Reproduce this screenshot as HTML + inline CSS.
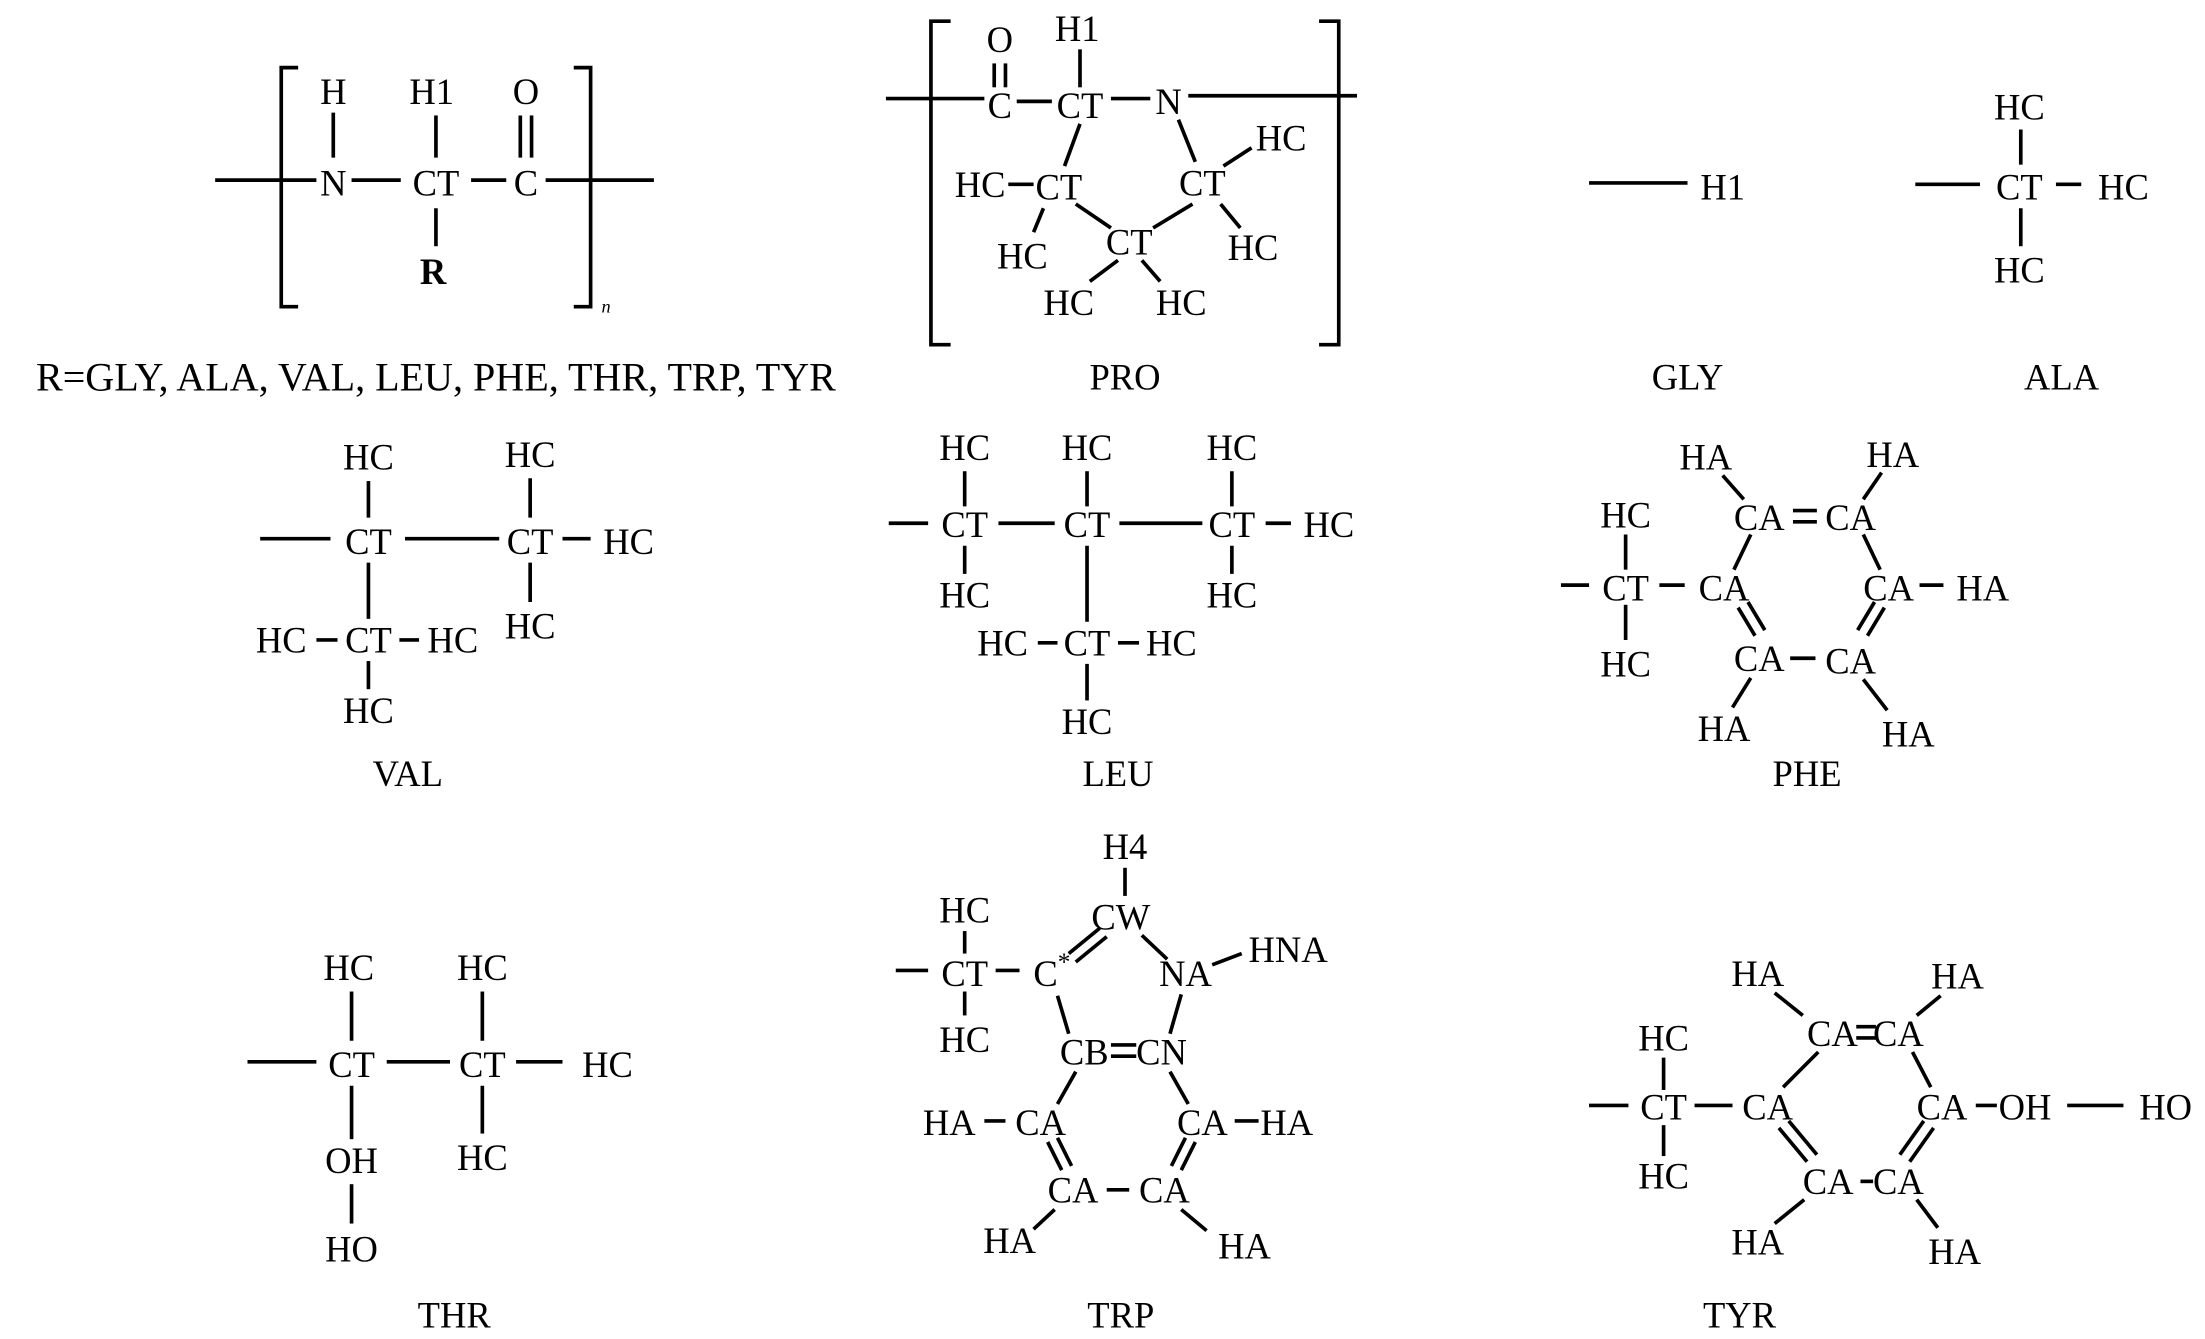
<!DOCTYPE html>
<html><head><meta charset="utf-8"><style>
html,body{margin:0;padding:0;background:#fff;}
svg{display:block}
text{font-family:"Liberation Serif",serif;font-size:26px;fill:#000;text-anchor:middle;dominant-baseline:central}
line,polyline{stroke:#000;stroke-width:2.6;fill:none}
</style></head><body>
<svg width="2205" height="1339" viewBox="0 0 1568 952" xmlns="http://www.w3.org/2000/svg">
<!-- Backbone -->
<polyline points="212,48 200,48 200,218 212,218"/>
<polyline points="408,48 420,48 420,218 408,218"/>
<line x1="153" y1="128" x2="225" y2="128"/><text x="237" y="130">N</text>
<line x1="250" y1="128" x2="285" y2="128"/><text x="310" y="130">CT</text>
<line x1="335" y1="128" x2="360" y2="128"/><text x="374" y="130">C</text>
<line x1="388" y1="128" x2="465" y2="128"/>
<text x="237" y="65">H</text><line x1="237" y1="80" x2="237" y2="112"/>
<text x="307" y="65">H1</text><line x1="310" y1="82" x2="310" y2="112"/>
<text x="374" y="65">O</text><line x1="370" y1="82" x2="370" y2="112"/><line x1="378" y1="82" x2="378" y2="112"/>
<text x="308" y="193" style="font-weight:bold">R</text><line x1="310" y1="148" x2="310" y2="175"/>
<text x="431" y="218" style="font-style:italic;font-size:13px">n</text>
<text x="310" y="268" style="font-size:28.5px">R=GLY, ALA, VAL, LEU, PHE, THR, TRP, TYR</text>
<!-- PRO -->
<polyline points="676,15 662,15 662,245 676,245"/>
<polyline points="938,15 952,15 952,245 938,245"/>
<line x1="630" y1="70" x2="700" y2="70"/><text x="711" y="75">C</text>
<text x="711" y="28">O</text><line x1="707" y1="45" x2="707" y2="62"/><line x1="715" y1="45" x2="715" y2="62"/>
<line x1="723" y1="72" x2="748" y2="72"/><text x="768" y="75">CT</text>
<text x="766" y="20">H1</text><line x1="768" y1="35" x2="768" y2="62"/>
<line x1="790" y1="70" x2="818" y2="70"/><text x="831" y="72">N</text>
<line x1="845" y1="68" x2="965" y2="68"/>
<text x="753" y="133">CT</text><text x="855" y="130">CT</text><text x="803" y="172">CT</text>
<line x1="768" y1="88" x2="757" y2="118"/><line x1="838" y1="85" x2="850" y2="115"/>
<line x1="765" y1="145" x2="790" y2="162"/><line x1="848" y1="145" x2="820" y2="162"/>
<text x="697" y="131">HC</text><line x1="717" y1="131" x2="735" y2="131"/>
<text x="911" y="98">HC</text><line x1="870" y1="118" x2="890" y2="105"/>
<text x="727" y="182">HC</text><line x1="742" y1="148" x2="735" y2="165"/>
<text x="891" y="176">HC</text><line x1="868" y1="145" x2="882" y2="162"/>
<text x="760" y="215">HC</text><line x1="795" y1="185" x2="775" y2="200"/>
<text x="840" y="215">HC</text><line x1="812" y1="185" x2="825" y2="200"/>
<text x="800" y="268">PRO</text>
<!-- GLY -->
<line x1="1130" y1="130" x2="1200" y2="130"/><text x="1225" y="133">H1</text>
<text x="1200" y="268">GLY</text>
<!-- ALA -->
<line x1="1362" y1="131" x2="1408" y2="131"/><text x="1436" y="133">CT</text>
<line x1="1462" y1="131" x2="1480" y2="131"/><text x="1510" y="133">HC</text>
<text x="1436" y="76">HC</text><line x1="1437" y1="92" x2="1437" y2="117"/>
<text x="1436" y="192">HC</text><line x1="1437" y1="148" x2="1437" y2="175"/>
<text x="1466" y="268">ALA</text>
<!-- VAL -->
<line x1="185" y1="383" x2="235" y2="383"/><text x="262" y="385">CT</text>
<line x1="288" y1="383" x2="355" y2="383"/><text x="377" y="385">CT</text>
<line x1="400" y1="383" x2="420" y2="383"/><text x="447" y="385">HC</text>
<text x="262" y="325">HC</text><line x1="262" y1="342" x2="262" y2="368"/>
<text x="377" y="323">HC</text><line x1="377" y1="340" x2="377" y2="368"/>
<text x="377" y="445">HC</text><line x1="377" y1="400" x2="377" y2="428"/>
<line x1="262" y1="400" x2="262" y2="440"/><text x="262" y="455">CT</text>
<text x="200" y="455">HC</text><line x1="225" y1="455" x2="240" y2="455"/>
<text x="322" y="455">HC</text><line x1="284" y1="455" x2="298" y2="455"/>
<text x="262" y="505">HC</text><line x1="262" y1="470" x2="262" y2="490"/>
<text x="290" y="550">VAL</text>
<!-- LEU -->
<line x1="632" y1="372" x2="660" y2="372"/><text x="686" y="373">CT</text>
<line x1="710" y1="372" x2="750" y2="372"/><text x="773" y="373">CT</text>
<line x1="796" y1="372" x2="855" y2="372"/><text x="876" y="373">CT</text>
<line x1="900" y1="372" x2="918" y2="372"/><text x="945" y="373">HC</text>
<text x="686" y="318">HC</text><line x1="686" y1="335" x2="686" y2="360"/>
<text x="686" y="423">HC</text><line x1="686" y1="388" x2="686" y2="408"/>
<text x="773" y="318">HC</text><line x1="773" y1="335" x2="773" y2="360"/>
<line x1="773" y1="388" x2="773" y2="442"/><text x="773" y="457">CT</text>
<text x="713" y="457">HC</text><line x1="738" y1="457" x2="752" y2="457"/>
<text x="833" y="457">HC</text><line x1="795" y1="457" x2="810" y2="457"/>
<text x="773" y="513">HC</text><line x1="773" y1="472" x2="773" y2="498"/>
<text x="876" y="318">HC</text><line x1="876" y1="335" x2="876" y2="360"/>
<text x="876" y="423">HC</text><line x1="876" y1="388" x2="876" y2="408"/>
<text x="795" y="550">LEU</text>
<!-- PHE -->
<line x1="1110" y1="416" x2="1130" y2="416"/><text x="1156" y="418">CT</text>
<line x1="1180" y1="416" x2="1198" y2="416"/><text x="1226" y="418">CA</text>
<text x="1156" y="366">HC</text><line x1="1156" y1="380" x2="1156" y2="405"/>
<text x="1156" y="472">HC</text><line x1="1156" y1="430" x2="1156" y2="455"/>
<text x="1251" y="368">CA</text><text x="1316" y="368">CA</text>
<line x1="1275" y1="363" x2="1292" y2="363"/><line x1="1275" y1="371" x2="1292" y2="371"/>
<text x="1343" y="418">CA</text><text x="1410" y="418">HA</text><line x1="1365" y1="416" x2="1382" y2="416"/>
<text x="1251" y="468">CA</text><text x="1316" y="470">CA</text><line x1="1273" y1="468" x2="1291" y2="468"/>
<line x1="1236" y1="432" x2="1248" y2="452"/><line x1="1243" y1="428" x2="1255" y2="448"/>
<line x1="1340" y1="432" x2="1328" y2="452"/><line x1="1333" y1="428" x2="1321" y2="448"/>
<line x1="1245" y1="380" x2="1233" y2="405"/><line x1="1325" y1="380" x2="1337" y2="405"/>
<text x="1213" y="325">HA</text><line x1="1225" y1="338" x2="1240" y2="355"/>
<text x="1346" y="323">HA</text><line x1="1338" y1="336" x2="1325" y2="355"/>
<text x="1226" y="518">HA</text><line x1="1245" y1="482" x2="1232" y2="503"/>
<text x="1357" y="522">HA</text><line x1="1325" y1="483" x2="1342" y2="505"/>
<text x="1285" y="550">PHE</text>
<!-- THR -->
<line x1="176" y1="755" x2="225" y2="755"/><text x="250" y="757">CT</text>
<line x1="275" y1="755" x2="320" y2="755"/><text x="343" y="757">CT</text>
<line x1="367" y1="755" x2="400" y2="755"/><text x="432" y="757">HC</text>
<text x="248" y="688">HC</text><line x1="250" y1="705" x2="250" y2="740"/>
<text x="343" y="688">HC</text><line x1="343" y1="705" x2="343" y2="740"/>
<text x="250" y="825">OH</text><line x1="250" y1="772" x2="250" y2="810"/>
<text x="343" y="823">HC</text><line x1="343" y1="772" x2="343" y2="806"/>
<text x="250" y="888">HO</text><line x1="250" y1="842" x2="250" y2="870"/>
<text x="323" y="935">THR</text>
<!-- TRP -->
<line x1="637" y1="690" x2="660" y2="690"/><text x="686" y="692">CT</text>
<line x1="708" y1="690" x2="725" y2="690"/><text x="748" y="692">C<tspan dy="-8" font-size="18">*</tspan></text>
<text x="686" y="647">HC</text><line x1="686" y1="662" x2="686" y2="678"/>
<text x="686" y="739">HC</text><line x1="686" y1="705" x2="686" y2="722"/>
<text x="797" y="652">CW</text><text x="800" y="602">H4</text><line x1="800" y1="617" x2="800" y2="637"/>
<line x1="760" y1="678" x2="782" y2="660"/><line x1="765" y1="684" x2="787" y2="666"/>
<line x1="812" y1="665" x2="830" y2="682"/>
<text x="843" y="692">NA</text><line x1="862" y1="686" x2="883" y2="678"/><text x="916" y="675">HNA</text>
<line x1="752" y1="708" x2="760" y2="735"/>
<text x="771" y="748">CB</text><text x="826" y="748">CN</text>
<line x1="790" y1="743" x2="808" y2="743"/><line x1="790" y1="751" x2="808" y2="751"/>
<line x1="840" y1="707" x2="832" y2="735"/>
<line x1="832" y1="762" x2="845" y2="785"/><line x1="765" y1="762" x2="752" y2="785"/>
<text x="675" y="798">HA</text><line x1="700" y1="797" x2="715" y2="797"/><text x="740" y="798">CA</text>
<text x="855" y="798">CA</text><line x1="878" y1="797" x2="895" y2="797"/><text x="915" y="798">HA</text>
<line x1="745" y1="812" x2="755" y2="832"/><line x1="752" y1="809" x2="762" y2="829"/>
<line x1="850" y1="812" x2="840" y2="832"/><line x1="843" y1="809" x2="833" y2="829"/>
<text x="763" y="846">CA</text><text x="828" y="846">CA</text><line x1="787" y1="846" x2="803" y2="846"/>
<text x="718" y="882">HA</text><line x1="750" y1="860" x2="735" y2="874"/>
<text x="885" y="886">HA</text><line x1="840" y1="860" x2="858" y2="875"/>
<text x="797" y="935">TRP</text>
<!-- TYR -->
<line x1="1130" y1="786" x2="1158" y2="786"/><text x="1183" y="787">CT</text>
<line x1="1205" y1="786" x2="1232" y2="786"/><text x="1257" y="787">CA</text>
<text x="1183" y="738">HC</text><line x1="1183" y1="752" x2="1183" y2="775"/>
<text x="1183" y="836">HC</text><line x1="1183" y1="800" x2="1183" y2="822"/>
<text x="1303" y="735">CA</text><text x="1350" y="735">CA</text>
<line x1="1320" y1="730" x2="1334" y2="730"/><line x1="1320" y1="738" x2="1334" y2="738"/>
<text x="1381" y="787">CA</text><line x1="1405" y1="786" x2="1420" y2="786"/><text x="1440" y="787">OH</text>
<line x1="1470" y1="786" x2="1510" y2="786"/><text x="1540" y="787">HO</text>
<text x="1300" y="840">CA</text><text x="1350" y="840">CA</text><line x1="1323" y1="840" x2="1332" y2="840"/>
<line x1="1293" y1="748" x2="1268" y2="773"/><line x1="1360" y1="748" x2="1373" y2="773"/>
<line x1="1265" y1="802" x2="1285" y2="826"/><line x1="1272" y1="797" x2="1292" y2="821"/>
<line x1="1375" y1="802" x2="1358" y2="826"/><line x1="1368" y1="797" x2="1351" y2="821"/>
<text x="1250" y="692">HA</text><line x1="1262" y1="706" x2="1282" y2="722"/>
<text x="1392" y="694">HA</text><line x1="1380" y1="708" x2="1363" y2="722"/>
<text x="1250" y="883">HA</text><line x1="1262" y1="870" x2="1283" y2="853"/>
<text x="1390" y="890">HA</text><line x1="1363" y1="853" x2="1378" y2="873"/>
<text x="1237" y="935">TYR</text>
</svg>
</body></html>
